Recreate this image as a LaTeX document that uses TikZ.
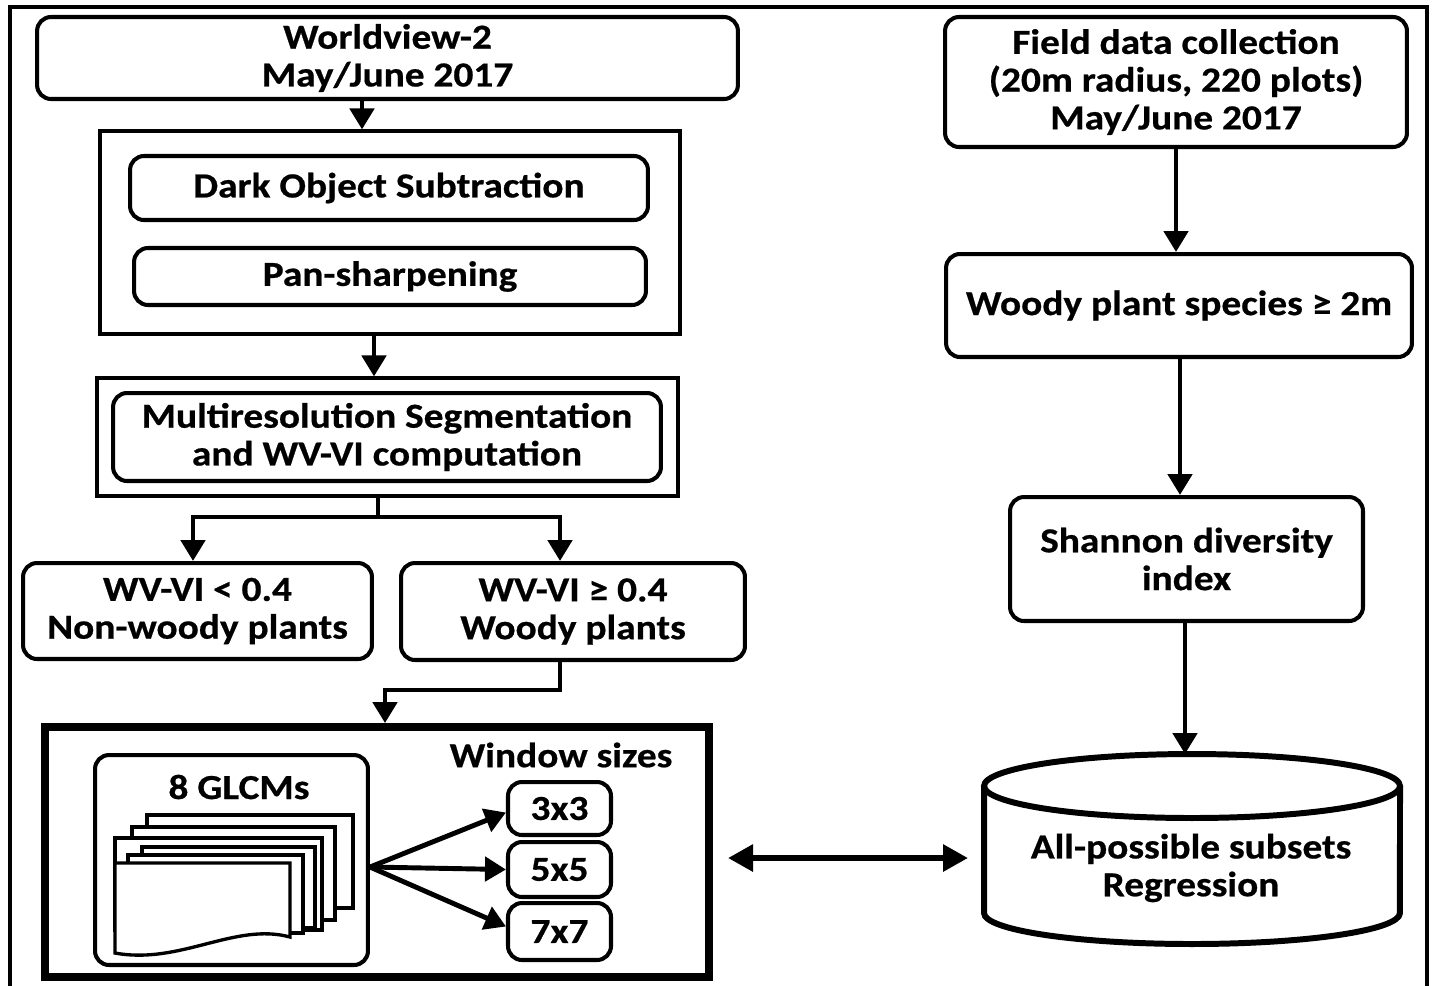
\documentclass[tikz,border=0pt]{standalone}
\usepackage{fontspec}
\setmainfont{Carlito}[FakeStretch=1.12, BoldFeatures={FakeBold=0.6}]
\usetikzlibrary{arrows.meta}

\begin{document}
\begin{tikzpicture}[x=0.02cm, y=-0.02cm,
    txt/.style={font=\fontsize{20}{21.5}\selectfont\bfseries, align=center, inner sep=0pt},
    rbox/.style={txt, draw, line width=2.3pt, rounded corners=0.28cm},
    sbox/.style={draw, line width=1.8pt, inner sep=0pt},
    arr/.style={line width=2.8pt, -{Triangle[length=0.42cm, width=0.48cm]}},
    link/.style={line width=2.8pt},
    dbl/.style={line width=3.4pt, {Triangle[length=0.5cm, width=0.52cm]}-{Triangle[length=0.5cm, width=0.52cm]}},
    page/.style={draw, fill=white, line width=1.9pt}]
    \useasboundingbox (0,0) rectangle (1432,985);

    % outer frame
    \draw[line width=1.8pt] (10,990) -- (10,7) -- (1427,7) -- (1427,990);

    % left column
    \node[rbox, minimum width=14.02cm, minimum height=1.64cm] (world) at (387.5,58) {Worldview-2\\May/June 2017};

    \node[sbox, minimum width=11.6cm, minimum height=4.06cm] (prep) at (390,232.5) {};
    \node[rbox, minimum width=10.36cm, minimum height=1.28cm] (dos) at (389,188) {Dark Object Subtraction};
    \node[rbox, minimum width=10.24cm, minimum height=1.14cm] (pan) at (390,276.5) {Pan-sharpening};

    \node[sbox, minimum width=11.62cm, minimum height=2.36cm] (segrect) at (387.5,437) {};
    \node[rbox, minimum width=10.96cm, minimum height=1.76cm] (seg) at (387,437) {Multiresolution Segmentation\\and WV-VI computation};

    \node[rbox, minimum width=6.98cm, minimum height=1.92cm] (nonwoody) at (197.5,611) {WV-VI < 0.4\\Non-woody plants};
    \node[rbox, minimum width=6.88cm, minimum height=1.94cm] (woody) at (573,611.5) {WV-VI ≥ 0.4\\Woody plants};

    \node[draw, line width=4.5pt, minimum width=13.28cm, minimum height=5cm] (texbox) at (377,852) {};
    \node[txt] (wsizes) at (561,755) {Window sizes};
    \node[rbox, minimum width=5.46cm, minimum height=4.2cm] (glcm) at (231.5,860) {};
    \node[txt] (glcmlbl) at (239,787) {8 GLCMs};

    % stacked matrices
    \foreach \l/\t/\r/\b in {147/815/353/908, 132/827/335/920, 115/838/322/930, 142/847/315/928, 128/855/303/933}
        \draw[page] (\l,\t) rectangle (\r,\b);
    \draw[page] (115,863) -- (290,863) -- (290,937)
        .. controls (235,922) and (180,965) .. (115,953) -- cycle;

    \node[rbox, minimum width=2.06cm, minimum height=1.06cm] (w3) at (559.5,808.5) {3x3};
    \node[rbox, minimum width=2.06cm, minimum height=1.1cm] (w5) at (559.5,869.5) {5x5};
    \node[rbox, minimum width=2.06cm, minimum height=1.14cm] (w7) at (559.5,931.5) {7x7};

    \coordinate (fan) at (370,867);
    \draw[arr] (fan) -- ([yshift=-0.08cm]w3.west);
    \draw[arr] (fan) -- (w5.west);
    \draw[arr] (fan) -- ([yshift=0.1cm]w7.west);

    \draw[arr] (362,0 |- world.south) -- (362,0 |- prep.north);
    \draw[arr] (374,0 |- prep.south) -- (374,0 |- segrect.north);
    \draw[link] (378,0 |- segrect.south) -- (378,517) coordinate (split);
    \draw[arr] (split) -| (193,0 |- nonwoody.north);
    \draw[arr] (split) -| (560,0 |- woody.north);
    \draw[arr] (560,0 |- woody.south) -- (560,690) -| (385,0 |- texbox.north);

    % right column
    \node[rbox, minimum width=9.24cm, minimum height=2.6cm] (field) at (1176,82) {Field data collection\\(20m radius, 220 plots)\\May/June 2017};
    \node[rbox, minimum width=9.32cm, minimum height=2.06cm] (species) at (1179,305.5) {Woody plant species ≥ 2m};
    \node[rbox, minimum width=7.06cm, minimum height=2.48cm] (shannon) at (1186.5,559) {Shannon diversity\\index};

    % cylinder
    \draw[line width=3.4pt, fill=white] (984,786) -- (984,913)
        arc[start angle=180, end angle=360, x radius=4.16cm, y radius=0.62cm] -- (1400,786);
    \draw[line width=3.4pt] (1192,786) ellipse[x radius=4.16cm, y radius=0.64cm];
    \node[txt] (regr) at (1191,868) {All-possible subsets\\Regression};
    \coordinate (cyltop) at (1185,754);

    \draw[arr] (field.south) -- (field.south |- species.north);
    \draw[arr] (1180,0 |- species.south) -- (1180,0 |- shannon.north);
    \draw[arr] (1185,0 |- shannon.south) -- (cyltop);

    \draw[dbl] (728,858) -- (968,858);
\end{tikzpicture}
\end{document}
